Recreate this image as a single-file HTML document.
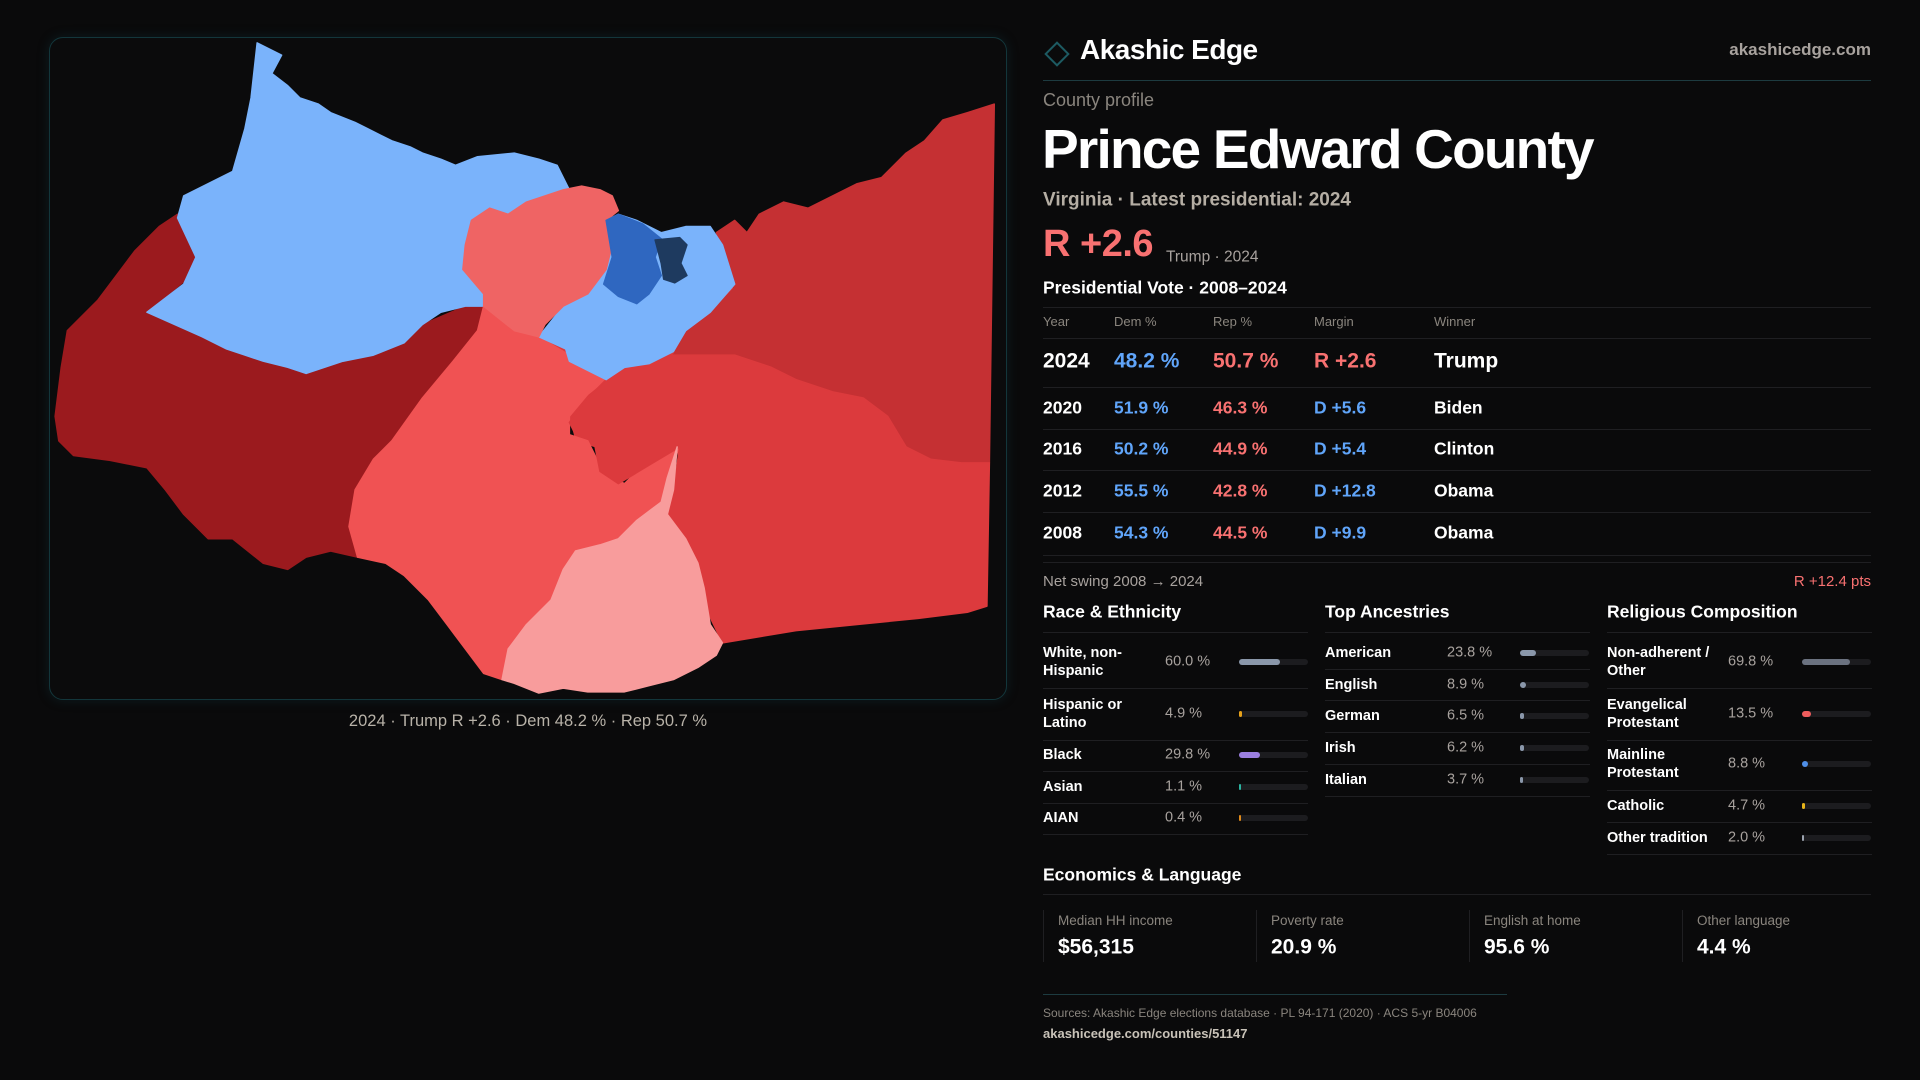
<!DOCTYPE html>
<html><head><meta charset="utf-8">
<style>
*{margin:0;padding:0;box-sizing:border-box}
body{width:1920px;height:1080px;background:#0a0a0b;position:relative;overflow:hidden;font-family:"Liberation Sans",sans-serif;color:#fff}
.t{position:absolute;white-space:nowrap;transform:translateY(-50%);line-height:1.2}
.b{font-weight:bold}
.hl{position:absolute;height:1px;background:#1f1f22}
</style></head><body>
<div style="position:absolute;left:49px;top:37px;width:958px;height:663px;border:1px solid #13363b;border-radius:14px;background:#0b0b0c;box-shadow:0 0 12px rgba(20,80,90,0.25)"></div>
<svg id="map" style="position:absolute;left:0;top:0" width="1920" height="1080" viewBox="0 0 1568 882">
<polygon fill="#dc3a3d" points="440,275 470,250 600,232 580,300 500,370 470,360 462,330"/>
<g stroke-width="1.2" stroke-linejoin="round">
<polygon fill="#9b1a1e" points="145,175 160,210 150,230 120,255 165,275 200,290 250,305 300,290 345,265 380,250 395,250 390,270 370,295 345,325 320,360 305,375 290,400 285,430 292,455 270,450 250,455 235,465 215,460 190,440 170,440 150,420 135,400 120,382 90,376 60,372 48,360 45,340 50,300 55,270 80,245 110,205 130,185"/>
<polygon fill="#7ab3fb" points="210,35 230,45 222,60 235,70 245,80 260,85 270,92 290,100 300,105 320,115 335,120 345,125 360,130 372,135 390,128 420,125 440,130 455,135 465,155 450,160 440,165 430,170 415,175 400,170 385,180 380,200 378,220 395,240 395,250 380,250 360,255 345,265 330,280 305,290 280,295 265,300 250,305 235,300 215,295 200,290 185,285 165,275 120,255 150,232 160,210 145,178 150,160 170,150 190,140 200,105 205,80"/>
<polygon fill="#f05253" points="395,250 420,270 440,275 465,290 475,300 490,300 495,310 480,322 465,340 465,355 480,360 490,380 500,390 510,395 525,380 540,370 555,365 545,390 540,410 520,425 505,440 490,445 470,450 460,465 450,490 430,510 415,540 410,555 395,550 380,530 365,510 350,490 330,470 315,460 292,455 285,430 290,400 305,375 320,360 345,325 370,295 390,270"/>
<polygon fill="#c53033" points="550,290 560,270 580,255 600,235 592,210 585,190 600,180 610,190 620,175 640,165 660,170 680,160 700,150 720,145 740,125 755,115 770,98 790,92 812,85 808,378 785,378 760,375 740,365 725,340 705,325 680,320 650,310 630,300 600,290 570,290"/>
<polygon fill="#dc3a3d" points="555,365 550,400 545,420 560,440 572,465 578,500 590,525 620,520 650,515 700,510 750,505 790,500 806,495 808,378 785,378 760,375 740,365 725,340 705,325 680,320 650,310 630,300 600,290 570,290 550,290 530,300 510,300 495,310 480,325 465,345 470,355 485,360 490,385 505,395 530,380"/>
<polygon fill="#f89c9c" points="553,365 550,400 545,420 560,440 570,460 575,480 580,510 590,525 585,535 570,545 550,555 530,560 510,565 480,565 460,562 440,566 420,558 410,555 415,530 430,510 450,490 460,465 470,450 490,445 505,440 520,425 540,410 545,390"/>
<polygon fill="#7ab3fb" points="440,275 460,250 480,240 495,220 500,200 495,180 505,175 520,180 540,190 560,185 580,185 590,200 600,232 580,255 560,270 550,287 530,297 510,300 495,310 475,300 465,295 462,285"/>
<polygon fill="#ef6464" points="380,200 385,180 400,170 415,175 430,165 445,160 460,155 475,152 490,155 500,160 505,172 495,180 500,200 495,220 480,240 460,250 445,265 440,275 420,270 395,250 395,240 378,220"/>
<polygon fill="#2f67c0" points="495,180 505,175 525,183 540,195 535,210 540,225 530,240 520,248 505,242 493,232 500,210"/>
<polygon fill="#1e3a5f" points="535,196 555,194 561,200 556,215 561,225 551,231 542,228 540,215"/>
</g>
</svg>
<div class="t" style="left:528px;top:722px;transform:translate(-50%,-50%);font-size:16.5px;color:#b8b2a8">2024 · Trump R +2.6 · Dem 48.2 % · Rep 50.7 %</div>

<div style="position:absolute;left:1048px;top:45px;width:18px;height:18px;border:2px solid #1d5a62;transform:rotate(45deg)"></div>
<div class="t b" style="left:1080px;top:50px;font-size:28px;letter-spacing:-0.5px">Akashic Edge</div>
<div class="t b" style="right:49px;top:50px;font-size:17px;color:#a8a29e">akashicedge.com</div>
<div class="hl" style="left:1043px;width:828px;top:80px;background:#1d3b40"></div>
<div class="t" style="left:1043px;top:101px;font-size:18px;color:#8a857e">County profile</div>
<div class="t b" style="left:1042px;top:149px;font-size:55px;letter-spacing:-1.8px">Prince Edward County</div>
<div class="t b" style="left:1043px;top:201px;font-size:19px;color:#b5aea4">Virginia · Latest presidential: 2024</div>
<div class="t b" style="left:1043px;top:245px;font-size:38px;color:#f87171;letter-spacing:-0.5px">R +2.6</div>
<div class="t" style="left:1166px;top:258px;font-size:15.5px;color:#a8a29e">Trump · 2024</div>
<div class="t b" style="left:1043px;top:288px;font-size:17.5px">Presidential Vote · 2008–2024</div>
<div class="hl" style="left:1043px;width:828px;top:307px"></div>
<div id="vt"></div>
<div class="t" style="left:1043px;top:582px;font-size:15px;color:#a8a29e">Net swing 2008 → 2024</div>
<div class="t" style="right:49px;top:582px;font-size:15px;color:#f87171">R +12.4 pts</div>
<div id="demo"></div>

<div class="t b" style="left:1043px;top:875px;font-size:17.5px">Economics &amp; Language</div>
<div class="hl" style="left:1043px;width:828px;top:894px"></div>
<div id="econ"></div>
<div class="hl" style="left:1043px;width:464px;top:994px;background:#1d3b40"></div>
<div class="t" style="left:1043px;top:1013px;font-size:12px;color:#8a857e">Sources: Akashic Edge elections database · PL 94-171 (2020) · ACS 5-yr B04006</div>
<div class="t b" style="left:1043px;top:1034px;font-size:13px;color:#c8c2b8">akashicedge.com/counties/51147</div>

<script>
const years=['2024','2020','2016','2012','2008'];
const demPct=[48.2,51.9,50.2,55.5,54.3];
const repPct=[50.7,46.3,44.9,42.8,44.5];
const margins=['R +2.6','D +5.6','D +5.4','D +12.8','D +9.9'];
const winners=['Trump','Biden','Clinton','Obama','Obama'];
const raceLabels=['White, non-<br>Hispanic','Hispanic or<br>Latino','Black','Asian','AIAN'];
const raceValues=[60.0,4.9,29.8,1.1,0.4];
const raceColors=['#8a97aa','#e6a11a','#9b7fe0','#2bb3a0','#e08a1a'];
const ancLabels=['American','English','German','Irish','Italian'];
const ancValues=[23.8,8.9,6.5,6.2,3.7];
const relLabels=['Non-adherent /<br>Other','Evangelical<br>Protestant','Mainline<br>Protestant','Catholic','Other tradition'];
const relValues=[69.8,13.5,8.8,4.7,2.0];
const relColors=['#6b7280','#ef5d5d','#4f8fe8','#e6b41a','#9ca3af'];
const econLabels=['Median HH income','Poverty rate','English at home','Other language'];
const econValues=['$56,315','20.9 %','95.6 %','4.4 %'];

document.querySelectorAll('#map g polygon').forEach(p=>p.setAttribute('stroke',p.getAttribute('fill')));

function txt(parent,cls,left,top,size,color,html){const d=document.createElement('div');d.className=cls;d.style.left=left+'px';d.style.top=top+'px';d.style.fontSize=size+'px';d.style.color=color;d.innerHTML=html;parent.appendChild(d);return d;}
function rule(parent,left,width,top){const d=document.createElement('div');d.className='hl';d.style.left=left+'px';d.style.width=width+'px';d.style.top=top+'px';parent.appendChild(d);return d;}

const vt=document.getElementById('vt');
const cols=[1043,1114,1213,1314,1434];
['Year','Dem %','Rep %','Margin','Winner'].forEach((h,i)=>{const e=txt(vt,'t',cols[i],322,13,'#8a857e',h);

});
const hr=rule(vt,1043,828,338);


const rowY=[361,408,449,491,533], lineY=[387,429,470,512,555];
years.forEach((y,i)=>{
 const s=i===0?21:17.5;
 const isR=margins[i].charAt(0)==='R';
 const vals=[[y,'#fff'],[demPct[i].toFixed(1)+' %','#60a5fa'],[repPct[i].toFixed(1)+' %','#f87171'],[margins[i],isR?'#f87171':'#60a5fa'],[winners[i],'#fff']];
 vals.forEach((v,j)=>{const e=txt(vt,'t b',cols[j],rowY[i],s,v[1],v[0]);
 
 });
 const r=rule(vt,1043,828,lineY[i]);
 
 
});
const r2=rule(vt,1043,828,562);



const demo=document.getElementById('demo');
function panel(x,title,labels,values,colors,ys,seps,pctX,barX){
 const t=txt(demo,'t b',x,612,17.5,'#fff',title);
 
 
 const tr=rule(demo,x,265,632);
 
 
 labels.forEach((l,i)=>{
  const a=txt(demo,'t b',x,ys[i],14.5,'#fff',l);a.style.lineHeight='1.25';
  
  
  const p=txt(demo,'t',pctX,ys[i],14.5,'#a8a29e',values[i].toFixed(1)+' %');
  
  
  const bg=document.createElement('div');
  
  
  bg.style.cssText='position:absolute;left:'+barX+'px;top:'+(ys[i]-3)+'px;width:69px;height:6px;border-radius:3px;background:#1c1c1f';
  const f=document.createElement('div');
  
  
  f.style.cssText='height:100%;border-radius:3px;min-width:2px;background:'+colors[i]+';width:'+(69*values[i]/100)+'px';
  bg.appendChild(f);demo.appendChild(bg);
  const s=rule(demo,x,265,seps[i]);
  
  
 });
}
panel(1043,'Race &amp; Ethnicity',raceLabels,raceValues,raceColors,[662,714,755,787,818],[688,740,771,803,834],1165,1239);
panel(1325,'Top Ancestries',ancLabels,ancValues,['#8a97aa','#8a97aa','#8a97aa','#8a97aa','#8a97aa'],[653,685,716,748,780],[669,700,732,764,796],1447,1520);
panel(1607,'Religious Composition',relLabels,relValues,relColors,[662,714,764,806,838],[688,740,790,822,854],1728,1802);

const econ=document.getElementById('econ');
const ex=[1043,1256,1469,1682];
econLabels.forEach((l,i)=>{
 const b=document.createElement('div');
 
 
 b.style.cssText='position:absolute;left:'+ex[i]+'px;top:910px;width:1px;height:52px;background:#1f1f22';
 econ.appendChild(b);
 const a=txt(econ,'t',ex[i]+15,921,13.5,'#8a857e',l);
 
 
 const v=txt(econ,'t b',ex[i]+15,947,21,'#fff',econValues[i]);
 
 
});
</script>
</body></html>
